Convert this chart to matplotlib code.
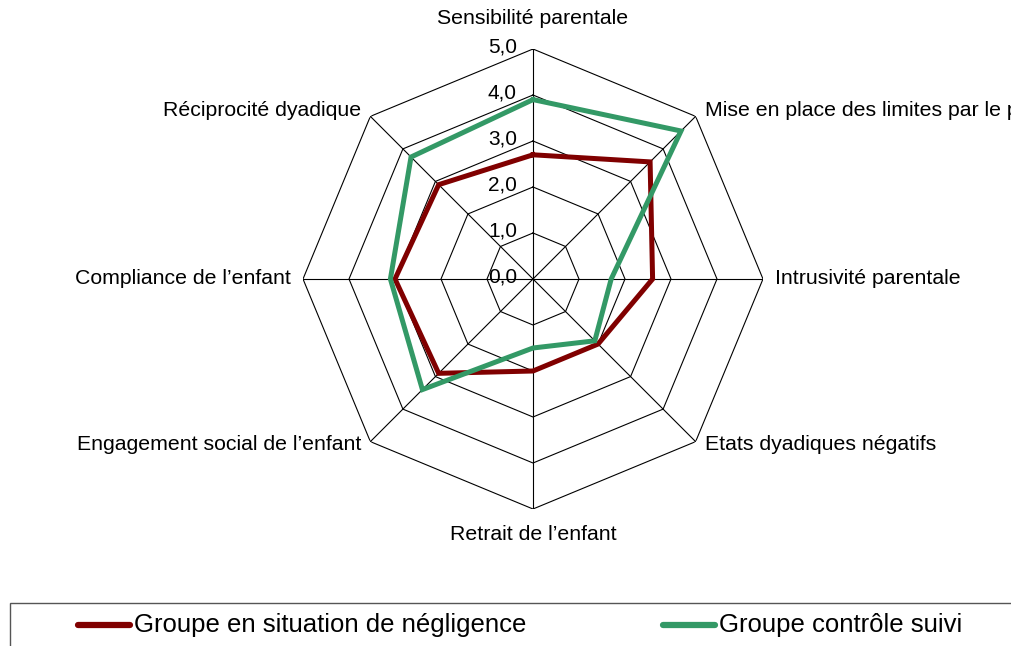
import numpy as np
import matplotlib
matplotlib.use("Agg")
import matplotlib.pyplot as plt
from matplotlib.patches import Rectangle
from matplotlib.lines import Line2D

plt.rcParams['font.family'] = ['Liberation Sans', 'DejaVu Sans']

# Data
categories = ["Sensibilité parentale", "Mise en place des limites par le parent",
              "Intrusivité parentale", "Etats dyadiques négatifs",
              "Retrait de l'enfant", "Engagement social de l'enfant",
              "Compliance de l'enfant", "Réciprocité dyadique"]
categories = [c.replace("'", "\u2019") for c in categories]
negligence = [2.7, 3.6, 2.6, 2.0, 2.0, 2.9, 3.0, 2.9]
controle = [3.9, 4.55, 1.7, 1.9, 1.5, 3.4, 3.1, 3.75]
series_names = ["Groupe en situation de négligence", "Groupe contrôle suivi"]
series_colors = ["#800000", "#339966"]
rings = [1, 2, 3, 4, 5]
ring_labels = ["1,0", "2,0", "3,0", "4,0", "5,0"]

W, H = 1011, 646
fig = plt.figure(figsize=(W / 100, H / 100), dpi=100)
cx, cy, rad = 533, 279, 230
ax = fig.add_axes([(cx - rad) / W, (H - cy - rad) / H, 2 * rad / W, 2 * rad / H],
                  projection='polar')
ax.set_theta_zero_location('N')
ax.set_theta_direction(-1)
ax.set_ylim(0, 5)
ax.axis('off')

n = len(categories)
theta = np.arange(n) * 2 * np.pi / n
theta_c = np.append(theta, theta[0])

# octagonal grid
for r in rings:
    ax.plot(theta_c, [r] * (n + 1), color='black', lw=0.8, zorder=1)
for t in theta:
    ax.plot([t, t], [0, 5], color='black', lw=0.8, zorder=1)

# series
for vals, col in zip([negligence, controle], series_colors):
    ax.plot(theta_c, vals + vals[:1], color=col, lw=3.6, zorder=3,
            solid_joinstyle='miter')

# radial tick labels
for r, lab in zip([0] + rings, ["0,0"] + ring_labels):
    ax.annotate(lab, xy=(0, r), xytext=(-16, 2), textcoords='offset pixels',
                ha='right', va='center', fontsize=15, zorder=2)

# category labels
offsets = [(0, 31, 'center'), (9, 6, 'left'), (12, 0, 'left'), (9, -3, 'left'),
           (0, -26, 'center'), (-9, -3, 'right'), (-12, 0, 'right'), (-9, 6, 'right')]
for t, lab, (dx, dy, ha) in zip(theta, categories, offsets):
    ax.annotate(lab, xy=(t, 5), xytext=(dx, dy), textcoords='offset pixels',
                ha=ha, va='center', fontsize=15.3, annotation_clip=False)

# legend box
fig.patches.append(Rectangle((10 / W, (H - 660) / H), 1020 / W, 57 / H,
                             transform=fig.transFigure, fill=False,
                             edgecolor='#555555', lw=1))
leg_pos = [78, 663]
ly = (H - 625) / H
for x0, name, col in zip(leg_pos, series_names, series_colors):
    fig.add_artist(Line2D([x0 / W, (x0 + 52) / W], [ly, ly], color=col, lw=4.5,
                          solid_capstyle='round', transform=fig.transFigure))
    fig.text((x0 + 56) / W, ly, name, fontsize=18.5, va='center', ha='left')

fig.savefig("out.png", dpi=100)
